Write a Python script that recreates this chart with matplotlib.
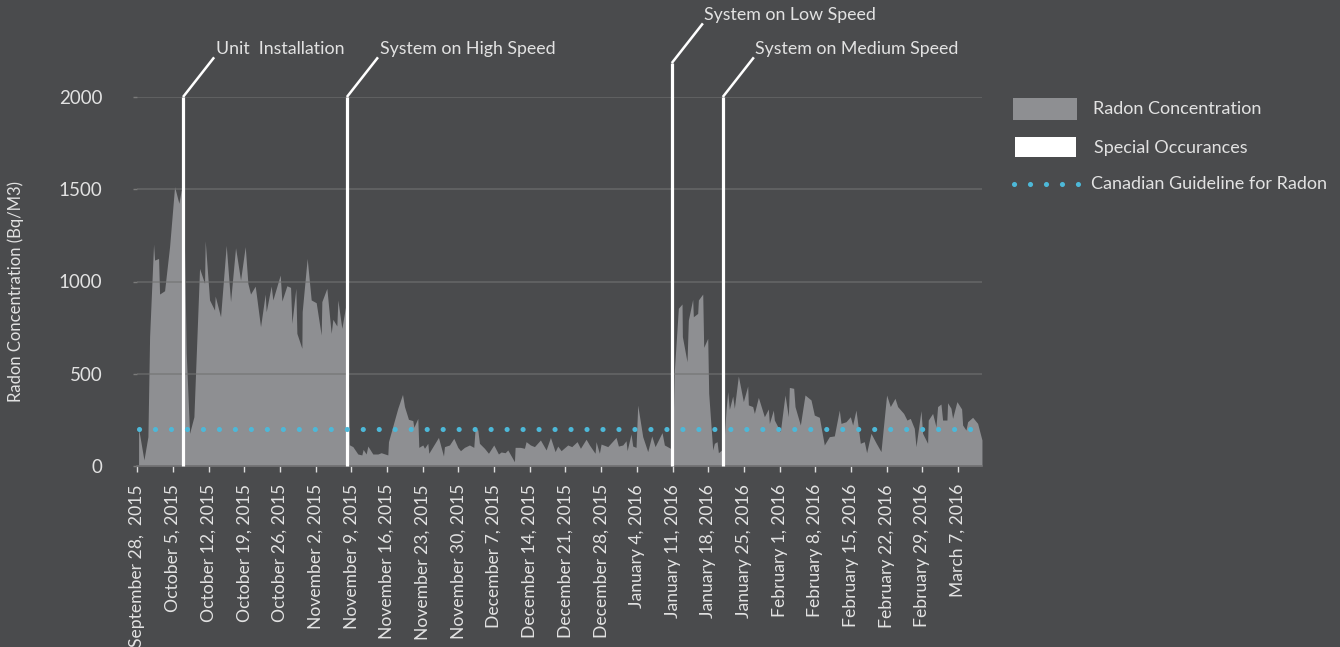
import matplotlib
matplotlib.use("Agg")
import matplotlib.pyplot as plt
import matplotlib.dates as mdates
from matplotlib.patches import Rectangle
from matplotlib.lines import Line2D
import pandas as pd

# ---------------- data ----------------
start_date = "2015-09-28"
# fractional day offsets from start_date and radon readings (Bq/m3)
sample_days = [
    0.26, 1.31, 2.09, 2.42, 3.20, 3.40, 4.18, 4.38, 5.36, 6.34, 7.32, 8.17, 8.63, 9.1,
    9.61, 10.26, 11.11, 12.22, 13.2, 13.33, 14.18, 15.16, 15.29, 16.34, 17.45, 18.3,
    19.28, 20.26, 21.18, 21.7, 22.22, 23.14, 24.18, 25.1, 25.29, 26.27, 26.6, 28.04,
    28.37, 29.35, 30.07, 30.33, 31.11, 31.31, 32.29, 32.35, 33.33, 34.12, 35.1, 36.08,
    36.21, 37.19, 38.04, 38.37, 39.15, 39.35, 40.13, 40.98, 41.25, 41.6,
    42.29, 43.27, 44.05, 44.31, 44.9, 45.23, 46.21, 47.19, 47.84, 49.15, 49.28, 50.46,
    51.11, 52.03, 52.42, 53.2, 54.05, 54.25, 55.03, 55.23, 56.01, 56.34, 56.99, 57.19,
    59.08, 60.07, 60.26, 61.24, 62.09, 62.88, 63.4, 64.18, 65.16, 66.01, 66.27, 66.8,
    67.12, 68.1, 68.89, 69.93, 70.85, 71.37, 72.16, 72.68, 73.99, 74.12, 75.16, 75.95,
    76.27, 77.12, 77.91, 79.08, 80.2, 81.05, 81.96, 82.48, 83.14, 84.44, 85.23, 86.27,
    86.93, 88.04, 88.69, 89.8, 89.99, 90.65, 90.98, 92.29, 93.92, 94.38, 95.23, 95.88,
    96.08, 96.86, 97.19, 97.84, 98.17, 99.15, 100.13, 100.92, 101.57, 102.94, 103.4,
    104.58, 105.0, 105.36, 106.14, 106.86, 106.93, 107.84, 108.1, 108.95, 109.08, 109.93,
    110.07, 110.92, 111.11, 111.9, 112.09, 112.88, 113.2, 113.73, 113.99, 114.64, 115.0,
    115.49, 115.82, 116.14, 116.8, 117.12, 117.91, 118.89, 119.74, 119.87, 120.72,
    121.05, 121.83, 123.01, 123.79, 123.99, 124.77, 124.97, 126.14, 127.06, 127.71,
    127.91, 128.76, 129.02, 130.07, 130.98, 132.16, 132.81, 133.79, 134.77, 135.75,
    136.73, 137.71, 138.04, 139.02, 139.87, 140.33, 140.98, 141.83, 142.61, 143.07,
    143.92, 144.9, 145.88, 146.99, 147.71, 148.63, 149.15, 150.33, 150.98, 151.63,
    152.42, 152.75, 153.73, 154.05, 155.03, 155.16, 156.01, 156.67, 156.99, 157.65,
    157.97, 158.82, 158.95, 159.61, 159.93, 160.78, 161.7, 161.9, 162.55, 162.88,
    163.86, 164.84, 165.69,
]
radon = [
    204, 33, 159, 700, 1203, 1116, 1125, 932, 950, 1189, 1514, 1424, 1496, 1450,
    610, 177, 267, 1071, 990, 1221, 900, 845, 921, 809, 1196, 891,
    1183, 1008, 1189, 990, 932, 975, 755, 932, 836, 975, 900, 1035,
    894, 977, 968, 773, 963, 719, 638, 836, 1125, 900, 885, 710,
    891, 963, 719, 795, 759, 900, 746, 882, 820, 115,
    105, 65, 60, 90, 65, 108, 65, 65, 72, 60, 132, 249,
    313, 388, 322, 253, 246, 210, 258, 101, 114, 96, 123, 69,
    155, 54, 105, 114, 150, 101, 83, 101, 114, 101, 202, 195,
    123, 96, 69, 114, 65, 76, 72, 87, 23, 101, 101, 96,
    132, 114, 105, 141, 87, 155, 78, 108, 83, 114, 105, 132,
    96, 145, 114, 69, 132, 69, 119, 105, 155, 108, 114, 137,
    83, 173, 108, 101, 330, 159, 78, 163, 105, 181, 114,
    96, 90, 520, 855, 878, 701, 565, 791, 903, 809, 827,
    900, 932, 643, 692, 394, 87, 123, 132, 72, 87, 90,
    303, 403, 307, 379, 313, 488, 349, 434, 331, 322,
    285, 372, 267, 309, 231, 303, 249, 186, 385, 267,
    426, 421, 322, 222, 385, 358, 276, 264, 114, 159,
    163, 303, 231, 240, 267, 222, 303, 123, 132, 72,
    177, 126, 78, 385, 322, 367, 322, 285, 249, 258,
    204, 105, 300, 177, 123, 249, 285, 213, 322, 336,
    249, 249, 343, 313, 258, 349, 309, 222, 195, 240,
    264, 231, 141,
]
guideline = 200

tick_labels = [
    "September 28,  2015", "October 5, 2015", "October 12, 2015", "October 19, 2015",
    "October 26, 2015", "November 2, 2015", "November 9, 2015", "November 16, 2015",
    "November 23, 2015", "November 30, 2015", "December 7, 2015", "December 14, 2015",
    "December 21, 2015", "December 28, 2015", "January 4, 2016", "January 11, 2016",
    "January 18, 2016", "January 25, 2016", "February 1, 2016", "February 8, 2016",
    "February 15, 2016", "February 22, 2016", "February 29, 2016", "March 7, 2016",
]
event_days = [8.98, 41.12, 104.85, 114.85]
event_labels = ["Unit  Installation", "System on High Speed",
                "System on Low Speed", "System on Medium Speed"]

# ---------------- style ----------------
BG = "#4a4b4d"
AREA = "#8e8f92"
TXT = "#e2e2e2"
BLUE = "#4db8d8"
FONT = ["Lato", "DejaVu Sans"]
plt.rcParams["font.family"] = FONT
FW = "normal"

t0 = pd.Timestamp(start_date)
x = t0 + pd.to_timedelta(sample_days, unit="D")
xn = mdates.date2num(x)

fig = plt.figure(figsize=(13.4, 6.47), dpi=100, facecolor=BG)
W, H = 1340, 647
ax = fig.add_axes([137 / W, (H - 466) / H, (982 - 137) / W, (466 - 97) / H])
ax.set_facecolor(BG)

ax.fill_between(xn, 0, radon, color=AREA, lw=0, zorder=2)

# grid lines on top of area
for v in [500, 1000, 1500, 2000]:
    ax.axhline(v, color="#727272", alpha=0.65, lw=1.2, zorder=3)

x_lo = mdates.date2num(t0) - 0.05
x_hi = mdates.date2num(t0 + pd.Timedelta(days=165.7))
ax.set_xlim(x_lo, x_hi)
ax.set_ylim(0, 2000)

# guideline dotted
g_hi = mdates.date2num(t0 + pd.Timedelta(days=165.2))
ax.plot([mdates.date2num(t0) + 0.25, g_hi], [guideline, guideline], color=BLUE,
        lw=3.7, linestyle=(0, (0.01, 3.1)), dash_capstyle="round", zorder=5)

# event lines + leaders
tops = [2000, 2000, 2184, 2000]
for d, lab, top in zip(event_days, event_labels, tops):
    xe = mdates.date2num(t0 + pd.Timedelta(days=d))
    ax.plot([xe, xe], [0, top], color="white", lw=2.3, zorder=4, clip_on=False,
            solid_capstyle="butt")
    ax.plot([xe, xe + 6.1], [top, top + 215], color="white", lw=1.8, zorder=4,
            clip_on=False, solid_capstyle="butt")
    ax.text(xe + 6.4, top + 262, lab, color=TXT, fontsize=12.8, fontweight=FW,
            ha="left", va="center", clip_on=False)

# axes styling
for s in ["top", "right", "left"]:
    ax.spines[s].set_visible(False)
ax.spines["bottom"].set_color("#6f6f71")
ax.spines["bottom"].set_linewidth(1.2)

ticks = [mdates.date2num(t0 + pd.Timedelta(days=7 * i)) for i in range(len(tick_labels))]
ax.set_xticks(ticks)
ax.set_xticklabels(tick_labels, rotation=90, ha="center", va="top",
                   color=TXT, fontsize=12.6, fontweight=FW)
ax.tick_params(axis="x", colors="#dddddd", length=4, width=1, pad=9, labelcolor=TXT)
ax.set_yticks([0, 500, 1000, 1500, 2000])
ax.set_yticklabels(["0", "500", "1000", "1500", "2000"], color=TXT, fontsize=13.5,
                   fontweight=FW)
ax.tick_params(axis="y", length=3, width=1, colors="#7a7a7a", pad=22, labelcolor=TXT)

fig.text(16 / W, (H - 292) / H, "Radon Concentration (Bq/M3)", rotation=90,
         ha="center", va="center", color=TXT, fontsize=12, fontweight=FW)

# legend (manual)
fig.add_artist(Rectangle((1013 / W, (H - 120) / H), 64 / W, 22 / H,
                         transform=fig.transFigure, color=AREA, lw=0))
fig.add_artist(Rectangle((1015 / W, (H - 157) / H), 61 / W, 20 / H,
                         transform=fig.transFigure, color="white", lw=0))
fig.add_artist(Line2D([1014 / W, 1078 / W], [(H - 184) / H] * 2, transform=fig.transFigure,
                      color=BLUE, lw=3.7, linestyle=(0, (0.01, 3.1)),
                      dash_capstyle="round"))
for ty, tx, lab in [(109, 1093, "Radon Concentration"), (148, 1094, "Special Occurances"),
                    (184, 1091, "Canadian Guideline for Radon")]:
    fig.text(tx / W, (H - ty) / H, lab, ha="left", va="center", color=TXT,
             fontsize=13, fontweight=FW)

fig.savefig("out.png", dpi=100, facecolor=BG)
